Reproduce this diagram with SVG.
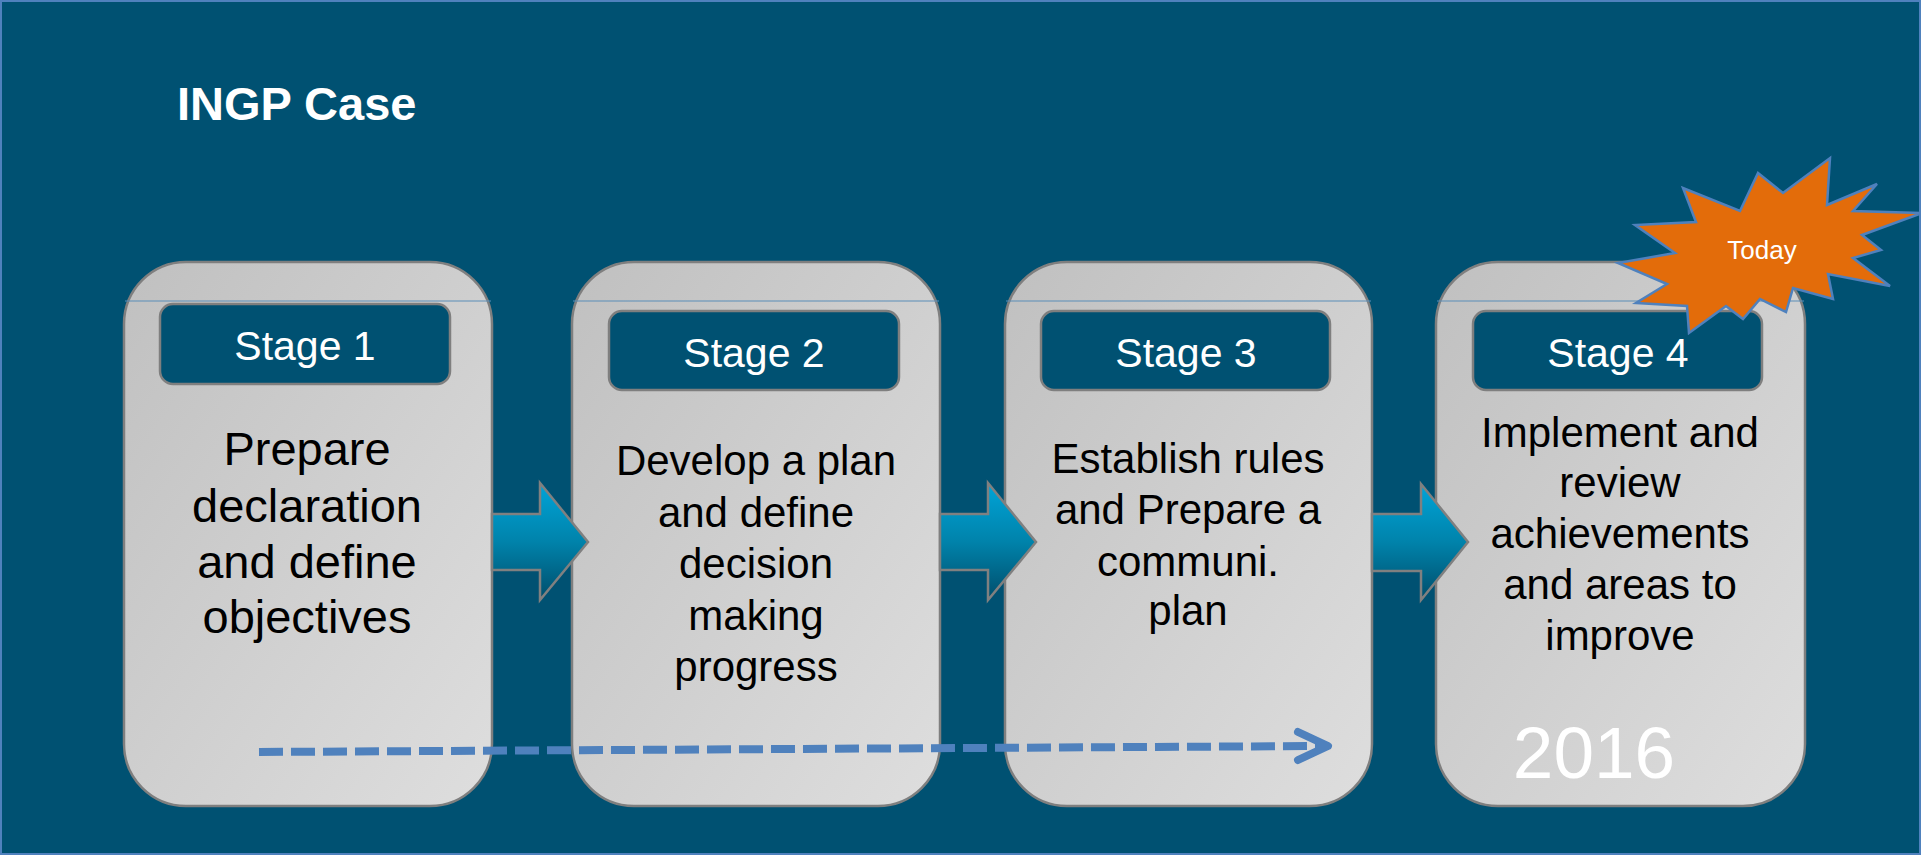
<svg xmlns="http://www.w3.org/2000/svg" width="1921" height="855" viewBox="0 0 1921 855">
<style>
.card{stroke:#7f7f7f;stroke-width:2.5;fill:url(#cardGrad)}
.hline{stroke:#5b8db8;stroke-width:1.2}
.hdr{fill:#005172;stroke:#7f7f7f;stroke-width:2.5}
.hdrt{font-family:"Liberation Sans",Arial,sans-serif;font-size:41px;fill:#ffffff;text-anchor:middle}
.body{font-family:"Liberation Sans",Arial,sans-serif;font-size:42px;fill:#000000;text-anchor:middle}
.arrow{fill:url(#arrGrad);stroke:#808080;stroke-width:2.5;stroke-linejoin:miter}
</style>
<defs>
<linearGradient id="cardGrad" x1="0" y1="0" x2="1" y2="1">
<stop offset="0" stop-color="#c0c0c0"/>
<stop offset="1" stop-color="#dedede"/>
</linearGradient>
<linearGradient id="arrGrad" x1="0" y1="0" x2="0" y2="1">
<stop offset="0" stop-color="#00a4d8"/>
<stop offset="0.5" stop-color="#0083ab"/>
<stop offset="1" stop-color="#004d6b"/>
</linearGradient>
</defs>
<rect x="1" y="1" width="1919" height="853" fill="#005172" stroke="#4f81bd" stroke-width="2"/>
<text x="177" y="120" font-family="'Liberation Sans',Arial,sans-serif" font-size="47" font-weight="bold" fill="#ffffff">INGP Case</text>

<g id="stage1">
<rect class="card" x="124" y="262" width="368" height="544" rx="62" ry="62"/>
<line class="hline" x1="125" y1="301" x2="491" y2="301"/>
<rect class="hdr" x="160" y="304" width="290" height="80" rx="13" ry="13"/>
<text class="hdrt" x="305" y="360">Stage 1</text>
<text class="body" font-size="47" style="font-size:47px"><tspan x="307" y="465">Prepare</tspan><tspan x="307" y="522">declaration</tspan><tspan x="307" y="578">and define</tspan><tspan x="307" y="633">objectives</tspan></text>
</g>

<g id="stage2">
<rect class="card" x="572" y="262" width="368" height="544" rx="62" ry="62"/>
<line class="hline" x1="573" y1="301" x2="939" y2="301"/>
<rect class="hdr" x="609" y="311" width="290" height="79" rx="13" ry="13"/>
<text class="hdrt" x="754" y="367">Stage 2</text>
<text class="body"><tspan x="756" y="475">Develop a plan</tspan><tspan x="756" y="527">and define</tspan><tspan x="756" y="578">decision</tspan><tspan x="756" y="630">making</tspan><tspan x="756" y="681">progress</tspan></text>
</g>

<g id="stage3">
<rect class="card" x="1005" y="262" width="367" height="544" rx="62" ry="62"/>
<line class="hline" x1="1006" y1="301" x2="1371" y2="301"/>
<rect class="hdr" x="1041" y="311" width="289" height="79" rx="13" ry="13"/>
<text class="hdrt" x="1186" y="367">Stage 3</text>
<text class="body"><tspan x="1188" y="473">Establish rules</tspan><tspan x="1188" y="524">and Prepare a</tspan><tspan x="1188" y="576">communi.</tspan><tspan x="1188" y="625">plan</tspan></text>
</g>

<g id="stage4">
<rect class="card" x="1436" y="262" width="369" height="544" rx="62" ry="62"/>
<line class="hline" x1="1437" y1="301" x2="1804" y2="301"/>
<rect class="hdr" x="1473" y="311" width="289" height="79" rx="13" ry="13"/>
<text class="hdrt" x="1618" y="367">Stage 4</text>
<text class="body"><tspan x="1620" y="447">Implement and</tspan><tspan x="1620" y="497">review</tspan><tspan x="1620" y="548">achievements</tspan><tspan x="1620" y="599">and areas to</tspan><tspan x="1620" y="650">improve</tspan></text>
<text x="1594" y="778" font-family="'Liberation Sans',Arial,sans-serif" font-size="73" fill="#ffffff" text-anchor="middle">2016</text>
</g>

<g id="connectors">
<polygon class="arrow" points="492,514 540,514 540,483 588,542 540,600 540,570 492,570"/>
<polygon class="arrow" points="940,514 988,514 988,483 1036,542 988,600 988,570 940,570"/>
<polygon class="arrow" points="1372,514 1421,514 1421,484 1468,542 1421,600 1421,571 1372,571"/>
<line x1="259" y1="752" x2="1322" y2="746" stroke="#4f81bd" stroke-width="8" stroke-dasharray="24 8"/>
<polyline points="1298,732 1328,746 1298,760" fill="none" stroke="#4f81bd" stroke-width="8" stroke-linecap="round" stroke-linejoin="round"/>
</g>

<g id="today">
<polygon points="1830,158 1827,205 1877,184 1853,211 1922,213 1862,235 1881,250 1853,258 1890,286 1828,274 1833,299 1793,288 1786,312 1760,299 1743,319 1726,306 1689,333 1687,306 1636,303 1667,284 1618,263 1675,253 1635,225 1696,222 1683,188 1740,211 1758,173 1783,193" fill="#e36c0a" stroke="#4f81bd" stroke-width="2.5" stroke-linejoin="miter"/>
<text x="1762" y="259" font-family="'Liberation Sans',Arial,sans-serif" font-size="26" fill="#ffffff" text-anchor="middle">Today</text>
</g>
</svg>
